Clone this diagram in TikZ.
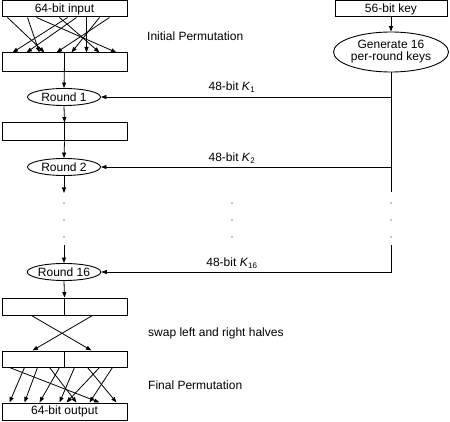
\documentclass[tikz,border=0pt]{standalone}
\usepackage{fontspec}
\setmainfont{Liberation Sans}
\usetikzlibrary{calc,shapes.geometric,arrows.meta}
\begin{document}
\begin{tikzpicture}[x=1pt,y=-1pt,
 font=\fontsize{12}{13}\selectfont,
 box/.style={draw,line width=1pt,minimum width=125pt,inner sep=0pt},
 rnd/.style={draw,ellipse,line width=0.9pt,minimum width=73pt,minimum height=17pt,inner sep=0pt},
 conn/.style={line width=0.8pt},
 arr/.style={conn,-{Triangle[length=5.5pt,width=4pt]}},
 lbl/.style={anchor=west,inner sep=0pt},
 klbl/.style={inner sep=0pt}]
\useasboundingbox (0,0) rectangle (450,422);
% left column
\node[box,minimum height=16pt] (in) at (64.5,9) {64-bit input};
\node[box,minimum height=19pt] (ip) at (64.5,62.5) {};
\node[rnd] (r1) at (64,97) {Round 1};
\node[box,minimum height=18pt] (b3) at (64.5,132) {};
\node[rnd] (r2) at (64,167) {Round 2};
\node[rnd] (r16) at (64,272) {Round 16};
\node[box,minimum height=17pt] (b4) at (64.5,306.5) {};
\node[box,minimum height=16pt] (b5) at (64.5,359) {};
\node[box,minimum height=17pt] (out) at (64.5,411.5) {64-bit output};
% right column
\node[draw,line width=1pt,minimum width=112pt,minimum height=16pt,inner sep=0pt] (key) at (391,9) {56-bit key};
\node[draw,ellipse,line width=0.9pt,minimum width=115pt,minimum height=40pt,inner sep=0pt,align=center] (gen) at (391,52) {Generate 16\\[-1pt]per-round keys};
% side labels
\node[lbl] (t1) at (147,36) {Initial Permutation};
\node[lbl] (t2) at (148,333) {swap left and right halves};
\node[lbl] (t3) at (148,385) {Final Permutation};
% key labels
\node[klbl] (k1) at (232,87) {48-bit \textit{K}\textsubscript{1}};
\node[klbl] (k2) at (232,158) {48-bit \textit{K}\textsubscript{2}};
\node[klbl] (k16) at (232,263) {48-bit \textit{K}\textsubscript{16}};
% coordinates
\coordinate (ld) at (64,193);
\coordinate (lu) at (64,245);
\coordinate (kd) at (391,192);
\coordinate (ku) at (391,245);
% initial permutation
\foreach \s/\e in {8/45,28/40,37/117,60/100,68/13,77/27,87/87,100/72,110/57}{
  \draw[arr] ($(in.south west)+(\s-2,0)$) -- ($(ip.north west)+(\e-2,0)$);
}
% main flow
\draw[arr] (ip.center) -- (r1.north);
\draw[conn] (ip.north) -- (ip.south);
\draw[arr] (r1.south) -- (b3.north);
\draw[conn] (b3.north) -- (b3.south);
\draw[arr] (b3.south) -- (r2.north);
\draw[arr] (r2.south) -- (ld);
\draw[arr] (lu) -- (r16.north);
\draw[arr] (r16.south) -- (b4.north);
\draw[conn] (b4.north) -- (b4.south);
\draw[conn] (b5.north) -- (b5.south);
% swap
\draw[arr] ($(b4.south west)+(30,0)$) -- ($(b5.north west)+(90,0)$);
\draw[arr] ($(b4.south west)+(91,0)$) -- ($(b5.north west)+(31,0)$);
% final permutation
\foreach \s/\e in {10/100,25/10,38/25,50/77,60/40,75/60,88/117,100/67,113/90}{
  \draw[arr] ($(b5.south west)+(\s-2,0)$) -- ($(out.north west)+(\e-2,0)$);
}
% key schedule
\draw[arr] (key.south) -- (gen.north);
\draw[conn] (gen.south) -- (kd);
\draw[arr] (gen.south |- r1.east) -- (r1.east);
\draw[arr] (gen.south |- r2.east) -- (r2.east);
\draw[arr] (ku) |- (r16.east);
% dots
\foreach \x in {64,232,391}{
  \foreach \y in {203,220,237}{
    \fill (\x,\y) circle (0.6pt);
  }
}
\end{tikzpicture}
\end{document}
